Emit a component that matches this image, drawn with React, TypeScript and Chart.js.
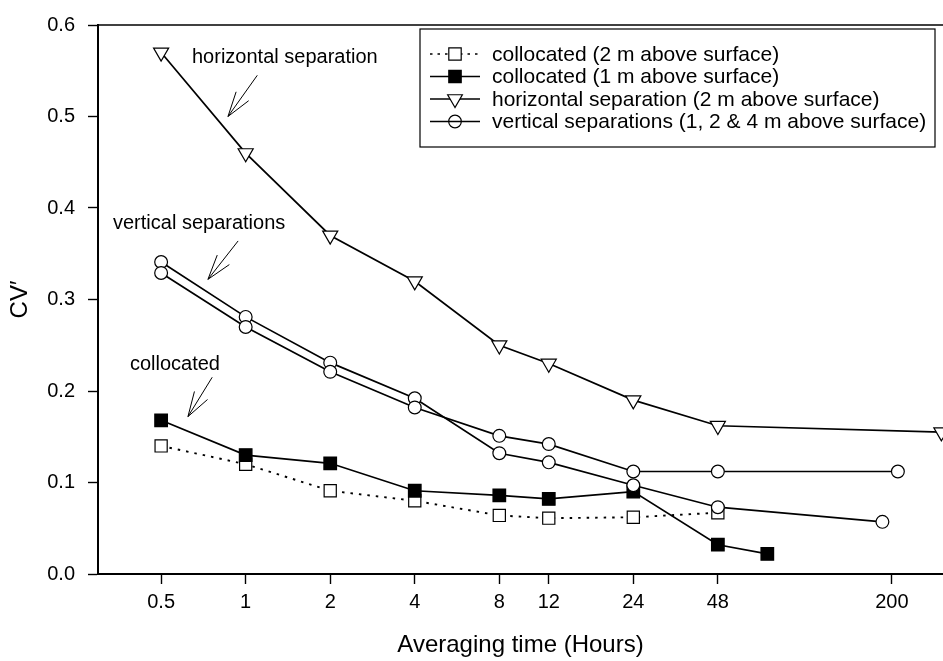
import React, { useEffect, useRef } from "react";
import { Chart, registerables } from "chart.js";

Chart.register(...registerables);

const FONT = "'Liberation Sans', Arial, Helvetica, sans-serif";

// Axis ticks
const hoursTicks = [0.5, 1, 2, 4, 8, 12, 24, 48, 200];
const cvTicks = [0, 0.1, 0.2, 0.3, 0.4, 0.5, 0.6];

// Collocated samplers, 2 m above surface
const colloc2Hours = [0.5, 1, 2, 4, 8, 12, 24, 48];
const colloc2CV = [0.14, 0.12, 0.091, 0.08, 0.064, 0.061, 0.062, 0.067];

// Collocated samplers, 1 m above surface
const colloc1Hours = [0.5, 1, 2, 4, 8, 12, 24, 48, 72];
const colloc1CV = [0.168, 0.13, 0.121, 0.091, 0.086, 0.082, 0.09, 0.032, 0.022];

// Horizontal separation, 2 m above surface
const horizHours = [0.5, 1, 2, 4, 8, 12, 24, 48, 300];
const horizCV = [0.57, 0.46, 0.37, 0.32, 0.25, 0.23, 0.19, 0.162, 0.155];

// Vertical separations (two sampler pairs)
const vertAHours = [0.5, 1, 2, 4, 8, 12, 24, 48, 185];
const vertACV = [0.341, 0.281, 0.231, 0.192, 0.132, 0.122, 0.097, 0.073, 0.057];
const vertBHours = [0.5, 1, 2, 4, 8, 12, 24, 48, 210];
const vertBCV = [0.329, 0.27, 0.221, 0.182, 0.151, 0.142, 0.112, 0.112, 0.112];

// Callout labels with arrows, anchored in data units (hours, CV')
const noteLabels = ["horizontal separation", "vertical separations", "collocated"];
const noteTextHours = [0.644, 0.337, 0.387];
const noteTextCV = [0.564, 0.383, 0.229];
const arrowTailHours = [1.1, 0.94, 0.76];
const arrowTailCV = [0.545, 0.364, 0.215];
const arrowTipHours = [0.865, 0.734, 0.623];
const arrowTipCV = [0.5, 0.322, 0.172];

// Legend entries
const legendLabels = [
  "collocated (2 m above surface)",
  "collocated (1 m above surface)",
  "horizontal separation (2 m above surface)",
  "vertical separations (1, 2 & 4 m above surface)",
];

const pairs = (xs: number[], ys: number[]) => xs.map((x, i) => ({ x, y: ys[i] }));

function drawMarker(ctx: CanvasRenderingContext2D, kind: string, x: number, y: number) {
  ctx.save();
  ctx.lineWidth = 1.2;
  ctx.strokeStyle = "#000";
  ctx.setLineDash([]);
  ctx.beginPath();
  if (kind === "openSquare" || kind === "filledSquare") {
    const s = 6.2;
    ctx.rect(x - s, y - s, 2 * s, 2 * s);
    ctx.fillStyle = kind === "filledSquare" ? "#000" : "#fff";
    ctx.fill();
    ctx.stroke();
  } else if (kind === "triangle") {
    const r = 8.5;
    ctx.moveTo(x, y + r);
    ctx.lineTo(x - r * 0.866, y - r / 2);
    ctx.lineTo(x + r * 0.866, y - r / 2);
    ctx.closePath();
    ctx.fillStyle = "#fff";
    ctx.fill();
    ctx.stroke();
  } else {
    ctx.arc(x, y, 6.3, 0, Math.PI * 2);
    ctx.stroke();
  }
  ctx.restore();
}

const decorPlugin = {
  id: "decor",
  afterDatasetsDraw(chart: any) {
    const { ctx, chartArea: a, scales } = chart;
    const xs = scales.x;
    const ys = scales.y;
    ctx.save();

    // top frame line
    ctx.strokeStyle = "#000";
    ctx.lineWidth = 1.6;
    ctx.beginPath();
    ctx.moveTo(a.left, a.top);
    ctx.lineTo(a.right, a.top);
    ctx.stroke();

    // callouts
    ctx.fillStyle = "#000";
    ctx.font = `20px ${FONT}`;
    ctx.textAlign = "left";
    ctx.textBaseline = "middle";
    noteLabels.forEach((t, i) => {
      ctx.fillText(t, xs.getPixelForValue(noteTextHours[i]), ys.getPixelForValue(noteTextCV[i]));
      const x0 = xs.getPixelForValue(arrowTailHours[i]);
      const y0 = ys.getPixelForValue(arrowTailCV[i]);
      const x1 = xs.getPixelForValue(arrowTipHours[i]);
      const y1 = ys.getPixelForValue(arrowTipCV[i]);
      const ang = Math.atan2(y0 - y1, x0 - x1);
      ctx.lineWidth = 1;
      ctx.beginPath();
      ctx.moveTo(x0, y0);
      ctx.lineTo(x1, y1);
      for (const d of [-0.3, 0.3]) {
        ctx.moveTo(x1, y1);
        ctx.lineTo(x1 + 26 * Math.cos(ang + d), y1 + 26 * Math.sin(ang + d));
      }
      ctx.stroke();
    });

    // legend box
    const bx = a.left + 322;
    const by = a.top + 4;
    const bw = a.right - 8 - bx;
    const bh = 118;
    ctx.fillStyle = "#fff";
    ctx.fillRect(bx, by, bw, bh);
    ctx.strokeStyle = "#000";
    ctx.lineWidth = 1.2;
    ctx.strokeRect(bx, by, bw, bh);
    const kinds = ["openSquare", "filledSquare", "triangle", "circle"];
    legendLabels.forEach((t, i) => {
      const ry = by + 25 + i * 22.5;
      const lx0 = bx + 10;
      const lx1 = bx + 60;
      const mx = (lx0 + lx1) / 2;
      ctx.strokeStyle = "#000";
      ctx.lineWidth = 1.6;
      ctx.setLineDash(i === 0 ? [2.5, 5] : []);
      ctx.beginPath();
      ctx.moveTo(lx0, ry);
      ctx.lineTo(lx1, ry);
      ctx.stroke();
      ctx.setLineDash([]);
      drawMarker(ctx, kinds[i], mx, ry);
      ctx.fillStyle = "#000";
      ctx.font = `21px ${FONT}`;
      ctx.textAlign = "left";
      ctx.textBaseline = "middle";
      ctx.fillText(t, bx + 72, ry + 1);
    });

    ctx.restore();
  },
};

export default function App() {
  const ref = useRef<HTMLCanvasElement>(null);

  useEffect(() => {
    const common = {
      borderColor: "#000",
      borderWidth: 1.7,
      pointBorderColor: "#000",
      pointBorderWidth: 1.2,
      pointHoverRadius: 0,
      tension: 0,
      fill: false,
    };
    const chart = new Chart(ref.current as HTMLCanvasElement, {
      type: "line",
      data: {
        datasets: [
          {
            ...common,
            label: legendLabels[0],
            data: pairs(colloc2Hours, colloc2CV),
            borderDash: [2.5, 6],
            borderWidth: 1.9,
            pointStyle: "rect",
            pointRadius: 8.6,
            pointBackgroundColor: "#fff",
            order: 4,
          },
          {
            ...common,
            label: legendLabels[1],
            data: pairs(colloc1Hours, colloc1CV),
            pointStyle: "rect",
            pointRadius: 8.9,
            pointBackgroundColor: "#000",
            order: 3,
          },
          {
            ...common,
            label: legendLabels[2],
            data: pairs(horizHours, horizCV),
            pointStyle: "triangle",
            pointRotation: 180,
            pointRadius: 8.7,
            pointBackgroundColor: "#fff",
            order: 2,
          },
          {
            ...common,
            label: legendLabels[3],
            data: pairs(vertAHours, vertACV),
            pointStyle: "circle",
            pointRadius: 6.4,
            pointBackgroundColor: "#fff",
            order: 1,
          },
          {
            ...common,
            label: "vertical separations (second pair)",
            data: pairs(vertBHours, vertBCV),
            pointStyle: "circle",
            pointRadius: 6.4,
            pointBackgroundColor: "#fff",
            order: 0,
          },
        ],
      },
      options: {
        animation: false,
        responsive: false,
        devicePixelRatio: 1,
        layout: { autoPadding: false, padding: { top: 19, right: 0, left: 0, bottom: 0 } },
        plugins: {
          legend: { display: false },
          tooltip: { enabled: false },
          title: { display: false },
        },
        scales: {
          x: {
            type: "logarithmic",
            position: "bottom",
            min: 0.298,
            max: 304,
            afterBuildTicks: (s: any) => {
              s.ticks = hoursTicks.map((v) => ({ value: v }));
            },
            afterFit: (s: any) => {
              s.height = 87;
            },
            ticks: {
              autoSkip: false,
              maxRotation: 0,
              minRotation: 0,
              padding: 6,
              color: "#000",
              font: { family: FONT, size: 20 },
              callback: (v: any) => String(v),
            },
            grid: {
              drawOnChartArea: false,
              drawTicks: true,
              tickLength: 10,
              tickWidth: 1.4,
              tickColor: "#000",
            },
            border: { display: true, color: "#000", width: 2 },
            title: {
              display: true,
              text: "Averaging time (Hours)",
              color: "#000",
              font: { family: FONT, size: 24 },
              padding: { top: 0, bottom: 1 },
            },
          },
          y: {
            type: "linear",
            min: 0,
            max: 0.6,
            afterBuildTicks: (s: any) => {
              s.ticks = cvTicks.map((v) => ({ value: v }));
            },
            afterFit: (s: any) => {
              s.width = 98;
            },
            ticks: {
              padding: 13,
              color: "#000",
              font: { family: FONT, size: 20 },
              callback: (v: any) => Number(v).toFixed(1),
            },
            grid: {
              drawOnChartArea: false,
              drawTicks: true,
              tickLength: 10,
              tickWidth: 1.4,
              tickColor: "#000",
            },
            border: { display: true, color: "#000", width: 2 },
            title: {
              display: true,
              text: "CV\u2032",
              color: "#000",
              font: { family: FONT, size: 24 },
              padding: { top: 6, bottom: 0 },
            },
          },
        },
      },
      plugins: [decorPlugin],
    });
    return () => chart.destroy();
  }, []);

  return (
    <div
      style={{
        position: "absolute",
        left: 0,
        top: 0,
        width: 943,
        height: 661,
        overflow: "hidden",
        background: "#fff",
      }}
    >
      <canvas ref={ref} width={943} height={661} style={{ display: "block", width: 943, height: 661 }} />
    </div>
  );
}
